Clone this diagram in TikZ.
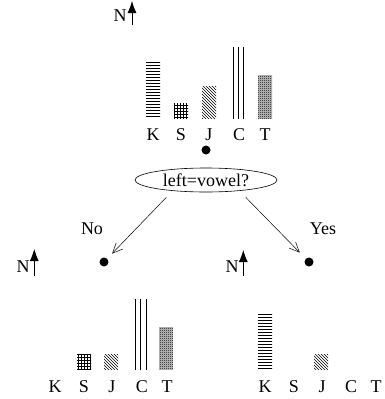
\documentclass[tikz,border=0pt]{standalone}
\usepackage{fontspec}
\setmainfont{Liberation Serif}
\usetikzlibrary{patterns,shapes.geometric,arrows.meta}
\pgfdeclarepatternformonly{checker}{\pgfpointorigin}{\pgfpoint{2pt}{2pt}}{\pgfpoint{2pt}{2pt}}{%
  \pgfpathrectangle{\pgfpointorigin}{\pgfpoint{1pt}{1pt}}%
  \pgfpathrectangle{\pgfpoint{1pt}{1pt}}{\pgfpoint{1pt}{1pt}}%
  \pgfusepath{fill}}
\begin{document}
\begin{tikzpicture}[x=1pt,y=-1pt,
  lbl/.style={font=\fontsize{18}{20}\selectfont, inner sep=0pt, anchor=base},
  dot/.style={circle, fill, inner sep=0pt, minimum size=9pt},
  northarrow/.style={-{Latex[length=12pt,width=9pt]}, line width=0.8pt},
  edge/.style={-{Straight Barb[length=10pt,width=9pt]}, line width=0.5pt},
  kbar/.style={pattern=horizontal lines},
  sbar/.style={pattern=grid},
  jbar/.style={pattern=north west lines},
  tbar/.style={fill=gray!45, postaction={pattern=checker}},
  cline/.style={line width=0.7pt}]
\useasboundingbox (0,0) rectangle (385,399);

% top histogram
\node[lbl] (nT) at (120,21) {N};
\coordinate (nTa) at (132,25);
\coordinate (nTb) at (132,1);
\draw[northarrow] (nTa) -- (nTb);
\fill[kbar] (146,62) rectangle (160,118.5);
\fill[sbar] (174,103) rectangle (188,118.5);
\fill[jbar] (202,86) rectangle (216,118.5);
\draw[cline] (233,47) -- (233,118.5) (238,47) -- (238,118.5) (243,47) -- (243,118.5);
\path[tbar] (258,75) rectangle (272,118.5);
\node[lbl] (kT) at (153,140) {K};
\node[lbl] (sT) at (181,140) {S};
\node[lbl] (jT) at (209,140) {J};
\node[lbl] (cT) at (239,140) {C};
\node[lbl] (tT) at (265,140) {T};

\node[dot] (d0) at (206,150) {};
\node[draw, ellipse, minimum width=142pt, minimum height=24pt, inner sep=0pt,
      font=\fontsize{18}{20}\selectfont, line width=0.6pt] (q) at (206,180) {left=vowel?};

\node[dot] (dL) at (104,262) {};
\node[dot] (dR) at (309,262) {};
\draw[edge, shorten <=9pt, shorten >=7pt] (q.198) -- (dL);
\draw[edge, shorten <=9pt, shorten >=8.5pt] (q.342) -- (dR);
\node[lbl] (no) at (92,234) {No};
\node[lbl] (yes) at (323,234) {Yes};

% left histogram
\node[lbl] (nL) at (23,272) {N};
\coordinate (nLa) at (34.3,276);
\coordinate (nLb) at (34.3,249);
\draw[northarrow] (nLa) -- (nLb);
\fill[sbar] (77,354) rectangle (91,369.5);
\fill[jbar] (104,354) rectangle (118,369.5);
\draw[cline] (135,299) -- (135,369.5) (140.5,299) -- (140.5,369.5) (146,299) -- (146,369.5);
\path[tbar] (159,327) rectangle (173,369.5);
\node[lbl] (kL) at (55,392) {K};
\node[lbl] (sL) at (84,392) {S};
\node[lbl] (jL) at (112,392) {J};
\node[lbl] (cL) at (142,392) {C};
\node[lbl] (tL) at (167,392) {T};

% right histogram
\node[lbl] (nR) at (232,272) {N};
\coordinate (nRa) at (243.3,276);
\coordinate (nRb) at (243.3,250);
\draw[northarrow] (nRa) -- (nRb);
\fill[kbar] (258,313) rectangle (272,369.5);
\fill[jbar] (314,354) rectangle (328,369.5);
\node[lbl] (kR) at (265,392) {K};
\node[lbl] (sR) at (294,392) {S};
\node[lbl] (jR) at (322,392) {J};
\node[lbl] (cR) at (351,392) {C};
\node[lbl] (tR) at (376,392) {T};
\end{tikzpicture}
\end{document}
